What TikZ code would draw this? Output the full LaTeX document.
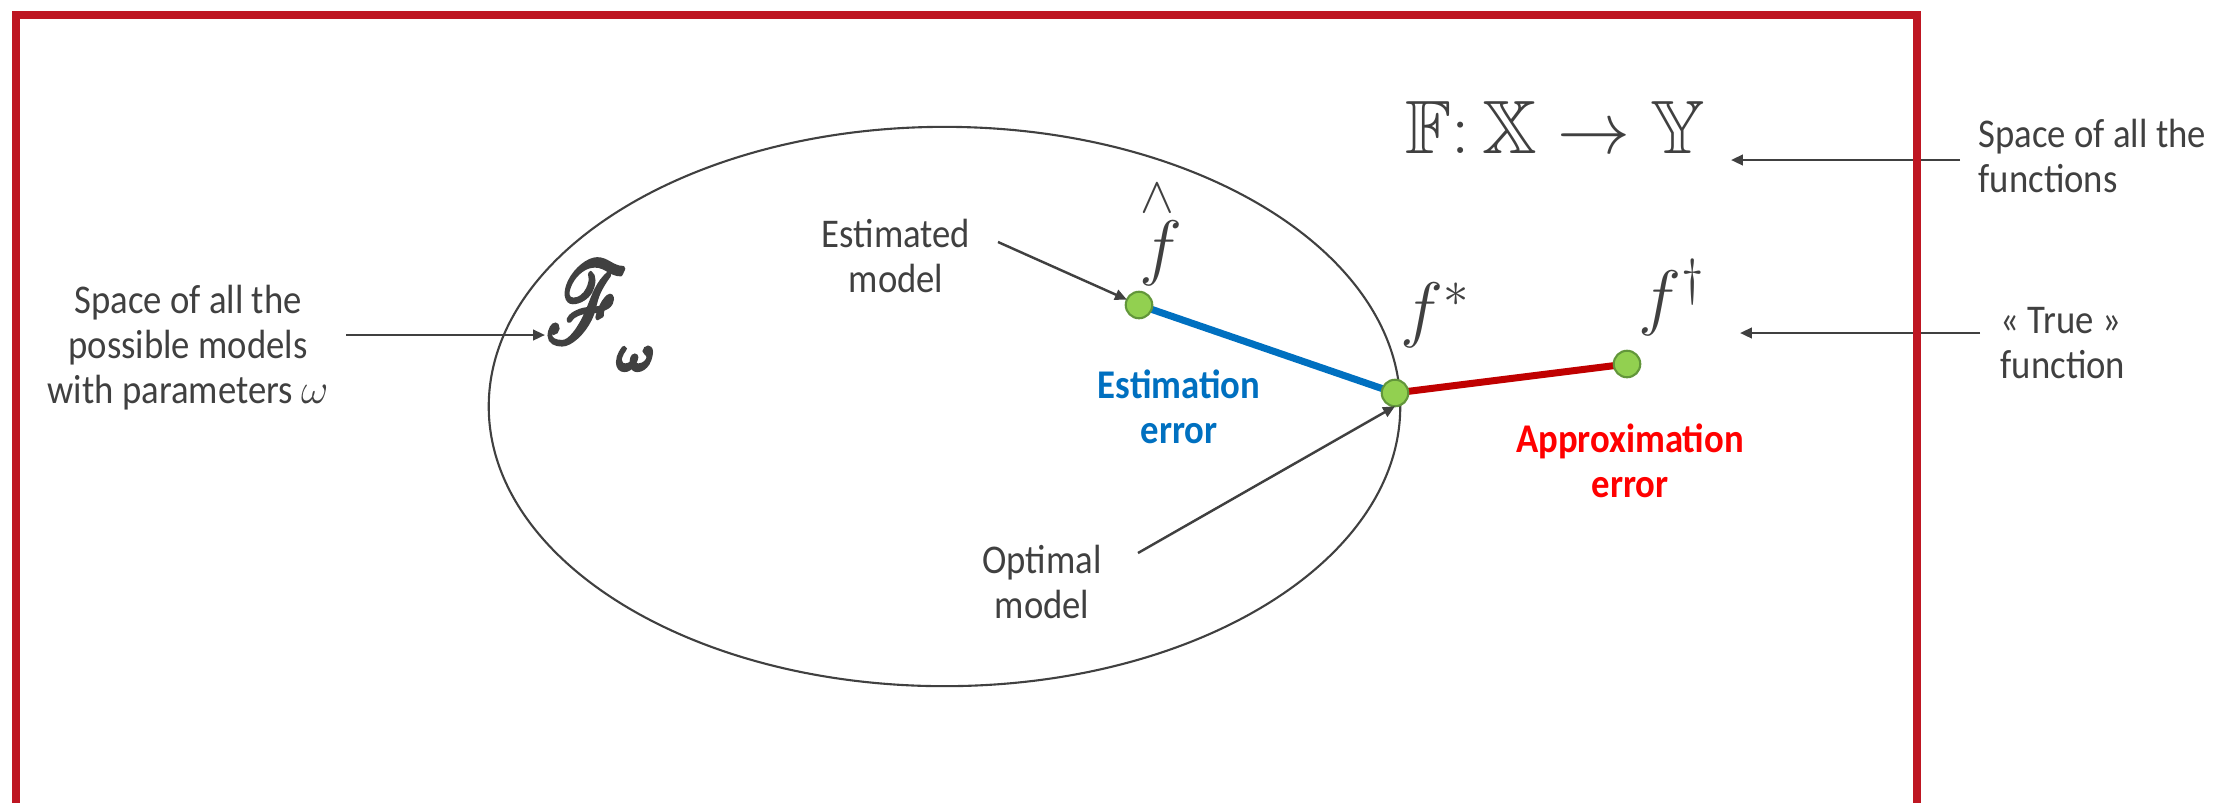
\documentclass[tikz,border=0pt]{standalone}
\usepackage{amsmath,amssymb,bm}
\usepackage{mathrsfs}
\usepackage{graphicx}
\usepackage{fontspec}
\setmainfont{Carlito}[FakeStretch=0.9]
\usetikzlibrary{shapes.geometric,arrows.meta}
\definecolor{txt}{HTML}{404040}
\definecolor{framered}{HTML}{BE1622}
\definecolor{eblue}{HTML}{0070C0}
\definecolor{ered}{HTML}{C00000}
\definecolor{ared}{HTML}{FF0000}
\definecolor{dotg}{HTML}{92D050}
\definecolor{dotb}{HTML}{62963A}
\newcommand{\heavyglyph}[1]{\special{pdf:literal direct 2 Tr 0.9 w}#1\special{pdf:literal direct 0 Tr}}
\begin{document}
\begin{tikzpicture}[x=0.01cm,y=-0.01cm,
  txtlbl/.style={text=txt, font=\fontsize{11.6pt}{12.8pt}\selectfont, align=center, inner sep=0pt},
  errlbl/.style={font=\fontsize{11.6pt}{12.8pt}\selectfont\bfseries, align=center, inner sep=0pt},
  mathlbl/.style={text=txt, font=\fontsize{21.5pt}{26pt}\selectfont, inner sep=0pt},
  arr/.style={draw=txt, line width=0.7pt, -{Triangle[length=3.4pt,width=3pt]}},
  dot/.style={circle, fill=dotg, draw=dotb, line width=0.6pt, minimum size=0.265cm, inner sep=0pt, outer sep=0pt},
  errline/.style={line width=2pt},
]
\useasboundingbox (0,0) rectangle (2236,802);
% model space
\node[ellipse, draw=txt, line width=0.6pt, minimum width=9.11cm, minimum height=5.59cm, inner sep=0pt] (space) at (944.5,406.5) {};
% points and errors
\coordinate (phat) at (1139,305);
\coordinate (pstar) at (1395,393);
\coordinate (pdag) at (1627,364);
\draw[eblue, errline] (phat) -- (pstar);
\draw[ered, errline] (pstar) -- (pdag);
\node[dot] (dhat) at (phat) {};
\node[dot] (dstar) at (pstar) {};
\node[dot] (ddag) at (pdag) {};
% math labels
\node[mathlbl, anchor=base west] (FXY) at (1405,153) {$\mathbb{F}{:}\,\mathbb{X}\rightarrow\mathbb{Y}$};
\node[text=txt, font=\fontsize{30pt}{34pt}\selectfont, inner sep=0pt, anchor=base west] (Fw) at (545,342) {\heavyglyph{\scalebox{0.9}[1.3]{$\mathscr{F}$}\kern-3pt\raisebox{-8pt}{\fontsize{14pt}{16pt}\selectfont$\boldsymbol{\omega}$}}};
\node[mathlbl, anchor=base] (fhat) at (1161,271) {$f$};
\node[text=txt, font=\fontsize{15pt}{18pt}\selectfont, inner sep=0pt] (hatm) at (1157,198) {$\wedge$};
\node[mathlbl, anchor=base] (fstar) at (1436,333) {$f^{*}$};
\node[mathlbl, anchor=base] (fdag) at (1672,321) {$f^{\dagger}$};
% text labels
\node[txtlbl] (modlbl) at (188,348) {Space of all the\\possible models\\with parameters $\omega$};
\node[txtlbl] (estlbl) at (896,256) {Estimated\\model};
\node[txtlbl] (optlbl) at (1042,582) {Optimal\\model};
\node[errlbl, text=eblue] (estErr) at (1179,407) {Estimation\\error};
\node[errlbl, text=ared] (appErr) at (1630,461) {Approximation\\error};
\node[txtlbl, align=left, anchor=west] (funlbl) at (1978,156) {Space of all the\\functions};
\node[txtlbl, align=left, anchor=west] (trulbl) at (2000,343) {« True »\\function};
% arrows
\coordinate (estT) at (998,242);
\draw[arr] (estT) -- (dhat);
\coordinate (optT) at (1138,553);
\draw[arr] (optT) -- (dstar.south);
\coordinate (modT) at (346,335);
\draw[arr] (modT) -- (modT -| Fw.west);
\coordinate (funT) at (1960,160);
\coordinate (funH) at (1731,160);
\draw[arr] (funT) -- (funH);
\coordinate (truT) at (1980,333);
\coordinate (truH) at (1740,333);
\draw[arr] (truT) -- (truH);
% frame
\draw[framered, line width=2.25pt] (15.7,850) -- (15.7,15) -- (1916.8,15) -- (1916.8,850);
\end{tikzpicture}
\end{document}
